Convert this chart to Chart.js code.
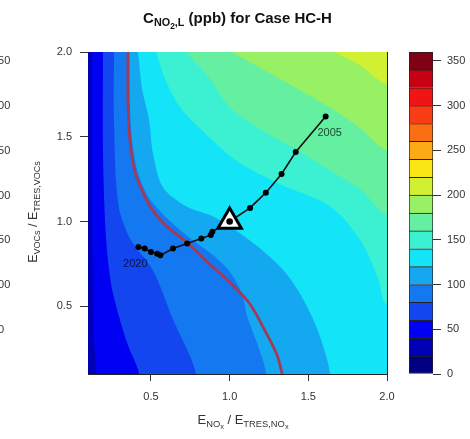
<!DOCTYPE html>
<html>
<head>
<meta charset="utf-8">
<script src="https://cdn.jsdelivr.net/npm/chart.js@4.4.1/dist/chart.umd.min.js"></script>
<style>
html,body{margin:0;padding:0;background:#fff;width:470px;height:439px;overflow:hidden;position:relative;font-family:'Liberation Sans',Arial,Helvetica,sans-serif;color:#333}
canvas{position:absolute;left:0;top:0}
.t{position:absolute;white-space:nowrap;line-height:1}
sub{font-size:72%;vertical-align:-0.32em;line-height:0}
sub sub{font-size:78%}
#title{left:88px;width:299px;top:10px;text-align:center;font-weight:bold;font-size:15px;color:#111}
#xtitle{left:88px;width:310px;top:413px;text-align:center;font-size:13px}
#ytitle{left:33px;top:212px;transform:translate(-50%,-50%) rotate(-90deg);font-size:12.5px}
.edge{position:absolute;font-size:11px;line-height:13px;left:-8px;color:#333}
</style>
</head>
<body>
<canvas id="main" width="470" height="439"></canvas>
<canvas id="cbar" width="470" height="439"></canvas>
<div id="title" class="t">C<sub>NO<sub>2</sub>,L</sub> (ppb) for Case HC-H</div>
<div id="xtitle" class="t">E<sub>NO<sub>x</sub></sub> / E<sub>TRES,NO<sub>x</sub></sub></div>
<div id="ytitle" class="t">E<sub>VOCs</sub> / E<sub>TRES,VOCs</sub></div>
<div id="edge"></div>
<script>
// ---------- data ----------
const xRange = [0.1, 2.0];
const yRange = [0.1, 2.0];
const xTicks = [0.5, 1.0, 1.5, 2.0];
const yTicks = [0.5, 1.0, 1.5, 2.0];

// colour levels (ppb) and their colours
const levels = [0,20,40,60,80,100,120,140,160,180,200,220,240,260,280,300,320,340,360];
const levelColors = ['#000080','#0000b4','#0000f2','#1446f0','#1478f0','#14a8f0','#14e4f8','#3cf0d2',
                     '#64f0a0','#98f064','#d2f032','#fae614','#faaa14','#fa6e14','#fa3c14','#f01414','#c80014','#800014'];
const cbTicks = [0,50,100,150,200,250,300,350];

// contour lines [x, y] (value increases to the upper right)
const c40  = [[0.125,2.0],[0.125,1.13],[0.132,0.54],[0.138,0.30],[0.151,0.10]];
const c60  = [[0.195,2.0],[0.195,1.42],[0.208,1.01],[0.227,0.77],[0.253,0.60],[0.297,0.44],[0.354,0.27],[0.424,0.10]];
const c80  = [[0.265,2.0],[0.265,1.60],[0.291,1.11],[0.361,0.91],[0.513,0.71],[0.641,0.42],[0.787,0.10]];
const c100 = [[0.361,2.0],[0.367,1.66],[0.380,1.48],[0.405,1.33],[0.444,1.22],[0.494,1.13],[0.590,1.03],[0.736,0.91],[0.895,0.80],[1.003,0.70],[1.080,0.57],[1.111,0.44],[1.175,0.28],[1.232,0.10]];
const c120 = [[0.418,2.0],[0.444,1.78],[0.488,1.60],[0.513,1.40],[0.577,1.20],[0.723,1.09],[0.895,1.03],[1.003,0.97],[1.194,0.84],[1.353,0.70],[1.468,0.54],[1.563,0.35],[1.639,0.10]];
const c140 = [[0.533,2.0],[0.590,1.84],[0.673,1.69],[0.787,1.57],[1.041,1.36],[1.321,1.22],[1.639,1.09],[1.830,0.89],[1.945,0.66],[2.0,0.51]];
const c160 = [[0.723,2.0],[0.876,1.84],[1.003,1.67],[1.258,1.51],[1.449,1.41],[1.639,1.30],[1.830,1.19],[2.0,1.04]];
const c180 = [[1.016,2.0],[1.321,1.84],[1.659,1.66],[1.830,1.55],[2.0,1.42]];
const c200 = [[1.671,2.0],[1.830,1.92],[2.0,1.81]];
const contourLevels = [40,60,80,100,120,140,160,180,200];
const contourLines  = [c40,c60,c80,c100,c120,c140,c160,c180,c200];
const lowestLevel = 20;

// red line
const redLine = [[0.354,2.0],[0.354,1.72],[0.361,1.54],[0.374,1.42],[0.399,1.29],[0.450,1.17],[0.507,1.07],[0.590,0.98],[0.736,0.87],[0.895,0.73],[1.003,0.64],[1.131,0.51],[1.239,0.33],[1.302,0.21],[1.334,0.10]];

// emission trajectory, 2005 ... 2020
const trajX = [1.61,1.42,1.33,1.23,1.13,1.00,0.89,0.88,0.82,0.73,0.64,0.56,0.54,0.50,0.46,0.42];
const trajY = [1.62,1.41,1.28,1.17,1.08,1.00,0.94,0.92,0.90,0.87,0.84,0.80,0.81,0.82,0.84,0.85];
const yearLabels = ['2005','2020'];
const baseCase = [1.0, 1.0];

// ---------- build ----------
Chart.defaults.font.family = "'Liberation Sans', Arial, Helvetica, sans-serif";
Chart.defaults.font.size = 11;
Chart.defaults.color = '#333';

const EXT = 0.3;
function colorFor(L){ return levelColors[levels.indexOf(L)]; }
function regionAbove(pts){
  const poly = pts.map(p => ({x:p[0], y:p[1]}));
  const first = pts[0], last = pts[pts.length-1];
  if (last[1] <= yRange[0] + 1e-9) {
    poly.push({x:last[0], y:yRange[0]-EXT});
    poly.push({x:xRange[1]+EXT, y:yRange[0]-EXT});
  } else {
    poly.push({x:xRange[1]+EXT, y:last[1]});
  }
  poly.push({x:xRange[1]+EXT, y:yRange[1]+EXT});
  poly.push({x:first[0], y:yRange[1]+EXT});
  return poly;
}
const bandBase = {type:'line', fill:'shape', borderWidth:0, borderColor:'transparent', pointRadius:0, pointHoverRadius:0, tension:0.3, capBezierPoints:false, clip:0};
const bands = [];
bands.push(Object.assign({}, bandBase, {tension:0, backgroundColor: colorFor(lowestLevel),
  data:[{x:xRange[0]-EXT,y:yRange[0]-EXT},{x:xRange[1]+EXT,y:yRange[0]-EXT},{x:xRange[1]+EXT,y:yRange[1]+EXT},{x:xRange[0]-EXT,y:yRange[1]+EXT}]}));
contourLevels.forEach((L,i) => bands.push(Object.assign({}, bandBase, {backgroundColor: colorFor(L), data: regionAbove(contourLines[i])})));

const trajData = trajX.map((x,i) => ({x, y:trajY[i]}));

const labelOffsets = [[4,17],[-3,17]];
const yearPlugin = {
  id:'yearLabels',
  afterDatasetsDraw(chart){
    const {ctx, scales:{x, y}} = chart;
    const idx = [0, trajX.length-1];
    ctx.save();
    ctx.font = "11px 'Liberation Sans', Arial, sans-serif";
    ctx.fillStyle = 'rgba(0,0,0,0.72)';
    ctx.textAlign = 'center';
    ctx.textBaseline = 'middle';
    idx.forEach((k,j) => {
      ctx.fillText(yearLabels[j], x.getPixelForValue(trajX[k]) + labelOffsets[j][0], y.getPixelForValue(trajY[k]) + labelOffsets[j][1]);
    });
    ctx.restore();
  }
};

const frameAxis = (pos) => ({type:'linear', position:pos, min: pos==='top'?xRange[0]:yRange[0], max: pos==='top'?xRange[1]:yRange[1],
  ticks:{display:false}, grid:{display:false, drawTicks:false}, border:{display:true, color:'#222', width:1},
  afterFit(s){ if (pos==='top') s.height = 0; else s.width = 0; }});

new Chart(document.getElementById('main'), {
  type:'line',
  data:{datasets:[
    {data:[{x:baseCase[0], y:baseCase[1]}], showLine:false, pointRadius:3.3, backgroundColor:'#000', borderColor:'#000', borderWidth:0, pointHoverRadius:3.3},
    {data:[{x:baseCase[0], y:baseCase[1]}], showLine:false, pointStyle:'triangle', pointRadius:13.5, pointBackgroundColor:'#fff', pointBorderColor:'#000', pointBorderWidth:3, pointHoverRadius:13.5},
    {data:trajData, borderColor:'#111', borderWidth:1.6, pointRadius:3, pointBackgroundColor:'#000', pointBorderWidth:0, tension:0, fill:false, pointHoverRadius:3},
    {data:redLine.map(p=>({x:p[0], y:p[1]})), borderColor:'#a33b55', borderWidth:2.8, pointRadius:0, tension:0.3, fill:false, clip:0, pointHoverRadius:0},
    ...bands.reverse()
  ]},
  options:{
    responsive:false, animation:false, events:[],
    layout:{padding:{left:48, right:83, top:52, bottom:25}},
    plugins:{legend:{display:false}, tooltip:{enabled:false}, title:{display:false}},
    scales:{
      x:{type:'linear', position:'bottom', min:xRange[0], max:xRange[1],
        afterBuildTicks(s){ s.ticks = xTicks.map(v => ({value:v})); },
        ticks:{callback:v => v.toFixed(1), padding:9, maxRotation:0, color:'#333'},
        grid:{display:true, drawOnChartArea:false, drawTicks:true, tickLength:7, color:'#333'},
        border:{display:true, color:'#222', width:1},
        afterFit(s){ s.height = 40; }},
      y:{type:'linear', position:'left', min:yRange[0], max:yRange[1],
        afterBuildTicks(s){ s.ticks = yTicks.map(v => ({value:v})); },
        ticks:{callback:v => v.toFixed(1), padding:8, color:'#333'},
        grid:{display:true, drawOnChartArea:false, drawTicks:true, tickLength:8, color:'#333'},
        border:{display:true, color:'#222', width:1},
        afterFit(s){ s.width = 40; }},
      xTop: frameAxis('top'),
      yRight: frameAxis('right')
    }
  },
  plugins:[yearPlugin]
});

// ---------- colour bar ----------
const cbChart = new Chart(document.getElementById('cbar'), {
  type:'bar',
  data:{labels:['ppb'], datasets: levelColors.map((c,i) => ({
    data:[[levels[i], levels[i+1]]], backgroundColor:c, borderColor:'#222', borderWidth:1,
    borderSkipped: i===0 ? false : 'start', grouped:false, barPercentage:1, categoryPercentage:1
  }))},
  options:{
    responsive:false, animation:false, events:[],
    layout:{padding:{left:409, right:0, top:52, bottom:65}},
    plugins:{legend:{display:false}, tooltip:{enabled:false}},
    scales:{
      x:{type:'category', display:false},
      y:{position:'right', min:levels[0], max:levels[levels.length-1],
        afterBuildTicks(s){ s.ticks = cbTicks.map(v => ({value:v})); },
        ticks:{padding:6, color:'#333'},
        grid:{display:true, drawOnChartArea:false, drawTicks:true, tickLength:8, color:'#333'},
        border:{display:false},
        afterFit(s){ s.width = 37; }}
    }
  }
});

// cut-off colour-bar labels of the neighbouring panel at the left edge
const edge = document.getElementById('edge');
cbTicks.filter(v => v > 0).forEach(v => {
  const d = document.createElement('div');
  d.className = 'edge';
  d.textContent = String(v);
  d.style.top = (cbChart.scales.y.getPixelForValue(v) - 6.5) + 'px';
  edge.appendChild(d);
});
</script>
</body>
</html>
